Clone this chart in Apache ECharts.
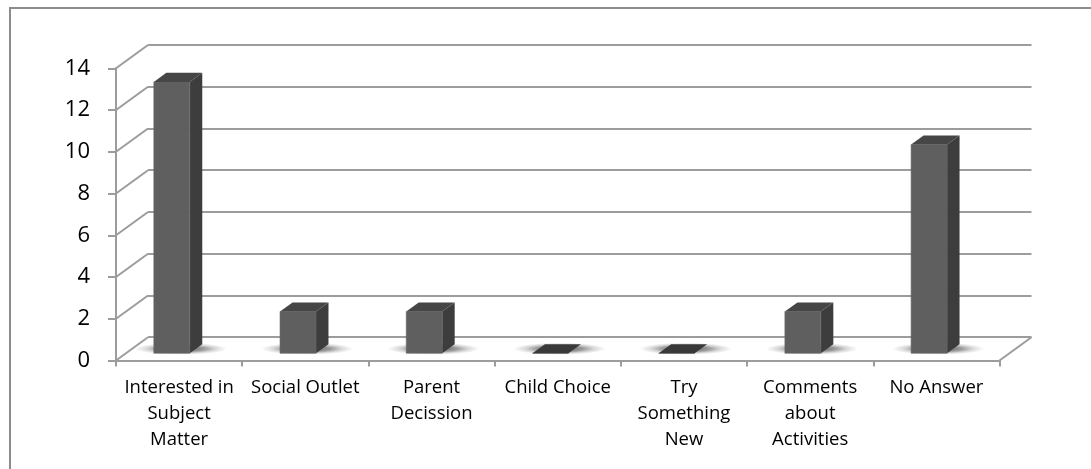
<!DOCTYPE html>
<html>
<head>
<meta charset="utf-8">
<script src="https://cdn.jsdelivr.net/npm/echarts@6/dist/echarts.min.js"></script>
<style>
  html, body { margin: 0; padding: 0; background: #ffffff; }
  #chart { width: 1091px; height: 469px; }
</style>
</head>
<body>
<div id="chart"></div>
<script>
// Survey answers: reasons for joining, with the number of responses for each
const categories = [
  'Interested in\nSubject\nMatter',
  'Social Outlet',
  'Parent\nDecission',
  'Child Choice',
  'Try\nSomething\nNew',
  'Comments\nabout\nActivities',
  'No Answer'
];
const counts = [13, 2, 2, 0, 0, 2, 10];
const yTicks = [0, 2, 4, 6, 8, 10, 12, 14];

// ---- layout of the oblique 3D box ----
const W = 1091, H = 469;
const DEPTH = [32, -23.3];                 // offset from the front plane to the back wall
const FRONT = { left: 116, top: 68.3, right: W - 999.5, bottom: H - 360.5 };
const BACK = {
  left: FRONT.left + DEPTH[0],
  top: FRONT.top + DEPTH[1],
  right: FRONT.right - DEPTH[0],
  bottom: FRONT.bottom - DEPTH[1]
};
const BAR_FRONT = 0.31;     // depth fraction of a bar's front face
const BAR_BACK = 0.70;      // depth fraction of a bar's back face
const BAR_INSET = 0.221;    // left inset of a bar inside its category slot
const BAR_WIDTH = 0.285;    // bar width as a share of the category slot

const GRID_LINE = { color: '#9c9c9c', width: 2 };
const FONT = '"Open Sans", Lato, sans-serif';

// side wall diagonals and the right edge of the floor
function renderWalls(params, api) {
  const v = api.value(1);
  const p = api.coord([0, v]);
  const w = api.size([1, 0])[0];
  const x = p[0] - w / 2;
  const children = [{
    type: 'line',
    shape: { x1: x, y1: p[1], x2: x + DEPTH[0], y2: p[1] + DEPTH[1] },
    style: { stroke: GRID_LINE.color, lineWidth: GRID_LINE.width }
  }];
  if (v === 0) {
    const q = api.coord([categories.length - 1, 0]);
    const xr = q[0] + w / 2;
    children.push({
      type: 'line',
      shape: { x1: xr, y1: q[1], x2: xr + DEPTH[0], y2: q[1] + DEPTH[1] },
      style: { stroke: GRID_LINE.color, lineWidth: GRID_LINE.width }
    });
  }
  return { type: 'group', children: children };
}

// one box-shaped bar with its soft floor shadow
function renderBar(params, api) {
  const i = api.value(0);
  const v = api.value(1);
  const top = api.coord([i, v]);
  const base = api.coord([i, 0]);
  const w = api.size([1, 0])[0];
  const x0 = top[0] - w / 2 + BAR_INSET * w + DEPTH[0] * BAR_FRONT;
  const x1 = x0 + BAR_WIDTH * w;
  const yT = top[1] + DEPTH[1] * BAR_FRONT;
  const yB = base[1] + DEPTH[1] * BAR_FRONT;
  const dx = DEPTH[0] * (BAR_BACK - BAR_FRONT);
  const dy = DEPTH[1] * (BAR_BACK - BAR_FRONT);
  const sx = (x0 + x1) / 2 + dx / 2 + 3;
  const sy = yB + dy / 2;
  return {
    type: 'group',
    children: [
      {
        type: 'circle',
        shape: { cx: 0, cy: 0, r: 1 },
        x: sx, y: sy, scaleX: 46, scaleY: 6,
        style: {
          fill: {
            type: 'radial', x: 0.5, y: 0.5, r: 0.5,
            colorStops: [
              { offset: 0, color: 'rgba(0,0,0,0.65)' },
              { offset: 0.5, color: 'rgba(0,0,0,0.4)' },
              { offset: 0.75, color: 'rgba(0,0,0,0.15)' },
              { offset: 1, color: 'rgba(0,0,0,0)' }
            ]
          }
        }
      },
      {
        type: 'polygon',
        shape: { points: [[x1, yT], [x1 + dx, yT + dy], [x1 + dx, yB + dy], [x1, yB]] },
        style: { fill: '#3d3d3d' }
      },
      {
        type: 'polygon',
        shape: { points: [[x0, yT], [x1, yT], [x1, yB], [x0, yB]] },
        style: { fill: '#5f5f5f', stroke: '#6a6a6a', lineWidth: 0.6 }
      },
      {
        type: 'polygon',
        shape: { points: [[x0, yT], [x1, yT], [x1 + dx, yT + dy], [x0 + dx, yT + dy]] },
        style: { fill: v === 0 ? '#393939' : '#464646' }
      }
    ]
  };
}

const chart = echarts.init(document.getElementById('chart'), null, { renderer: 'canvas' });
chart.setOption({
  backgroundColor: '#ffffff',
  animation: false,
  graphic: [{
    type: 'rect',
    shape: { x: 10, y: 8, width: 1200, height: 600 },
    style: { fill: 'none', stroke: '#8c8c8c', lineWidth: 2 },
    silent: true
  }],
  grid: [
    { left: FRONT.left, top: FRONT.top, right: FRONT.right, bottom: FRONT.bottom, containLabel: false },
    { left: BACK.left, top: BACK.top, right: BACK.right, bottom: BACK.bottom, containLabel: false }
  ],
  xAxis: [
    {
      type: 'category',
      gridIndex: 0,
      data: categories,
      boundaryGap: true,
      axisLine: { show: true, lineStyle: GRID_LINE },
      axisTick: { show: true, alignWithLabel: false, length: 6, lineStyle: GRID_LINE },
      axisLabel: {
        interval: 0, margin: 14, color: '#000000',
        fontFamily: FONT, fontSize: 18.5, lineHeight: 26, align: 'center'
      },
      splitLine: { show: false }
    },
    {
      type: 'category',
      gridIndex: 1,
      data: categories,
      show: false
    }
  ],
  yAxis: [
    {
      type: 'value',
      gridIndex: 0,
      min: 0, max: 14, interval: 2,
      axisLine: { show: true, lineStyle: GRID_LINE },
      axisTick: { show: true, length: 8, lineStyle: GRID_LINE },
      axisLabel: {
        margin: 26, color: '#000000', fontFamily: FONT, fontSize: 22,
        padding: [5, 0, 0, 0],
        formatter: function (val) { return yTicks.indexOf(val) >= 0 ? String(val) : ''; }
      },
      splitLine: { show: false }
    },
    {
      type: 'value',
      gridIndex: 1,
      min: 0, max: 14, interval: 2,
      axisLine: { show: false },
      axisTick: { show: false },
      axisLabel: { show: false },
      splitLine: { show: true, lineStyle: GRID_LINE }
    }
  ],
  series: [
    {
      type: 'custom',
      name: 'walls',
      xAxisIndex: 0, yAxisIndex: 0,
      clip: false,
      silent: true,
      z: 2,
      renderItem: renderWalls,
      data: yTicks.map(function (v) { return [0, v]; })
    },
    {
      type: 'custom',
      name: 'Responses',
      xAxisIndex: 0, yAxisIndex: 0,
      clip: false,
      z: 3,
      renderItem: renderBar,
      encode: { x: 0, y: 1 },
      data: counts.map(function (v, i) { return [i, v]; })
    }
  ]
});
</script>
</body>
</html>
